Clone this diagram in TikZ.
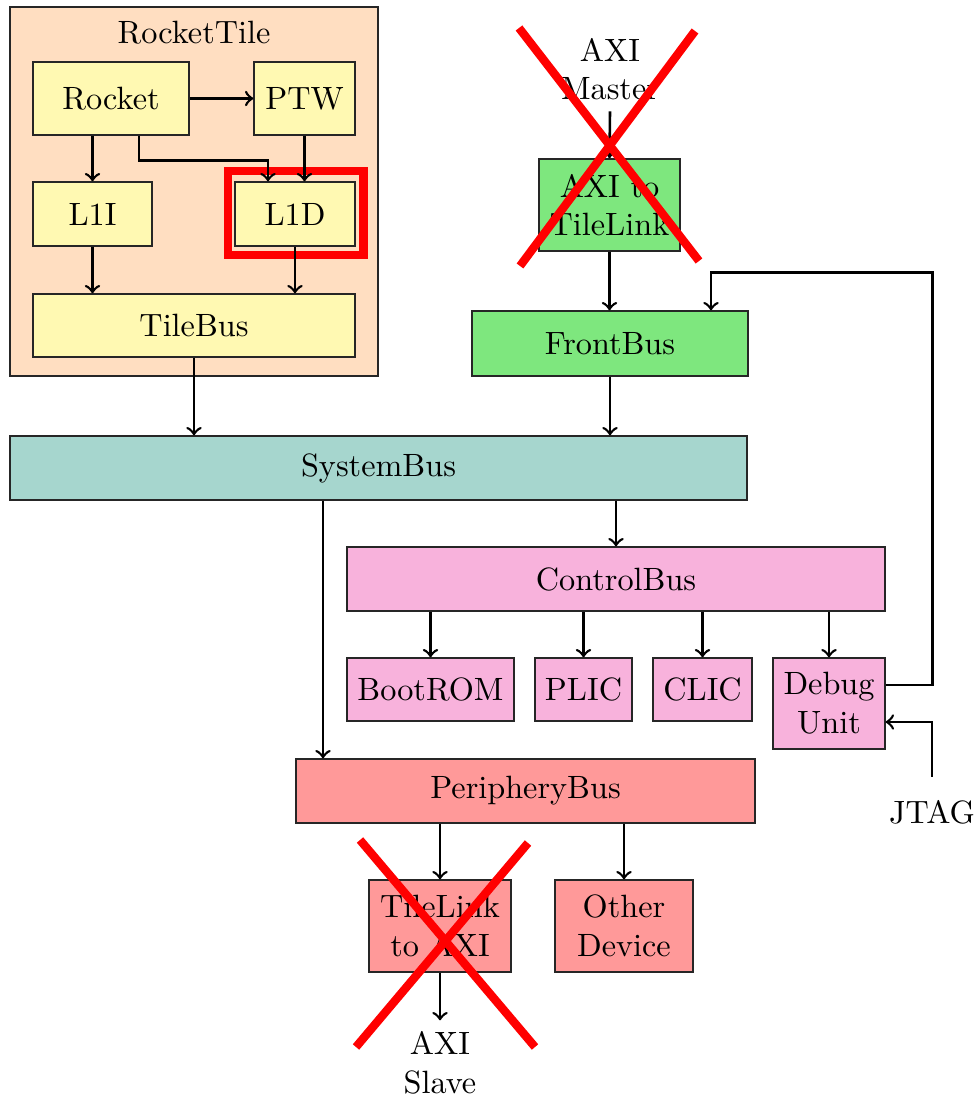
\documentclass[tikz,border=0pt]{standalone}
\usetikzlibrary{calc}
\definecolor{tilefill}{RGB}{255,222,193}
\definecolor{corefill}{RGB}{255,249,178}
\definecolor{frontfill}{RGB}{126,231,126}
\definecolor{sysfill}{RGB}{166,214,206}
\definecolor{ctrlfill}{RGB}{248,178,220}
\definecolor{perifill}{RGB}{255,153,153}
% box: fill colour, name, x0, x1, y0, y1, text (pixel-like units, y downward)
\newcommand\blk[7]{%
  \node[blockbox, fill=#1, minimum width={(#4-#3)*0.31pt}, minimum height={(#6-#5)*0.31pt}]
    (#2) at ({(#3+#4)/2},{(#5+#6)/2}) {#7};}
\begin{document}
\begin{tikzpicture}[x=0.31pt, y=-0.31pt,
  blockbox/.style={draw=black!85, line width=0.4pt, inner sep=0pt, align=center},
  arr/.style={->, thick},
  lbl/.style={align=center},
  cross/.style={draw=red, line width=2.6pt},
  hilite/.style={draw=red, line width=2.6pt}]
\useasboundingbox (0,0) rectangle (977,1099);

% tile container
\blk{tilefill}{tile}{10}{378}{7}{376}{}
\node at (194,33) {RocketTile};

% tile contents
\blk{corefill}{rocket}{33}{189}{62}{135}{Rocket}
\blk{corefill}{ptw}{254}{355}{62}{135}{PTW}
\blk{corefill}{l1i}{33}{152}{182}{246}{L1I}
\blk{corefill}{l1d}{235}{355}{182}{246}{L1D}
\blk{corefill}{tilebus}{33}{355}{294}{357}{TileBus}
\draw[hilite] ($(l1d.north west)+(-6.5,-10.3)$) rectangle ($(l1d.south east)+(7.7,8.5)$);

% front side
\node[lbl] (axim) at (610,69) {AXI\\Master};
\blk{frontfill}{axi2tl}{539}{680}{159}{251}{AXI to\\TileLink}
\blk{frontfill}{frontbus}{472}{748}{311}{376}{FrontBus}

% system and control buses
\blk{sysfill}{systembus}{10}{747}{436}{500}{SystemBus}
\blk{ctrlfill}{controlbus}{347}{885}{547}{611}{ControlBus}
\blk{ctrlfill}{bootrom}{347}{514}{658}{721}{BootROM}
\blk{ctrlfill}{plic}{535}{632}{658}{721}{PLIC}
\blk{ctrlfill}{clic}{653}{752}{658}{721}{CLIC}
\blk{ctrlfill}{debug}{773}{885}{658}{749}{Debug\\Unit}
\node (jtag) at (932,812) {JTAG};

% periphery
\blk{perifill}{peribus}{296}{755}{759}{823}{PeripheryBus}
\blk{perifill}{tl2axi}{369}{511}{880}{972}{TileLink\\to AXI}
\blk{perifill}{other}{555}{693}{880}{972}{Other\\Device}
\node[lbl] (axis) at (440,1063) {AXI\\Slave};

% connectors inside the tile
\draw[arr] (rocket.east |- ptw.west) -- (ptw.west);
\draw[arr] (l1i.north |- rocket.south) -- (l1i.north);
\draw[arr] ($(rocket.south)+(28,0)$) -- ++(0,25) -| ($(l1d.north)+(-27,0)$);
\draw[arr] (ptw.south) -- (ptw.south |- l1d.north);
\draw[arr] (l1i.south) -- (l1i.south |- tilebus.north);
\draw[arr] (l1d.south) -- (l1d.south |- tilebus.north);
\draw[arr] (tilebus.south) -- (tilebus.south |- systembus.north);

% front connectors
\draw[arr] (axim.south) -- (axi2tl.north);
\draw[arr] (axi2tl.south) -- (frontbus.north -| axi2tl.south);
\draw[arr] (frontbus.south) -- (frontbus.south |- systembus.north);
\draw[arr] ($(debug.east)+(0,-18.5)$) -- ++(47,0) |- ($(frontbus.north)+(101,-38)$) -- ($(frontbus.north)+(101,0)$);

% system bus fan-out
\draw[arr] (controlbus.north |- systembus.south) -- (controlbus.north);
\draw[arr] ($(systembus.south)+(-55.5,0)$) coordinate (sbp) -- (sbp |- peribus.north);
\draw[arr] (bootrom.north |- controlbus.south) -- (bootrom.north);
\draw[arr] (plic.north |- controlbus.south) -- (plic.north);
\draw[arr] (clic.north |- controlbus.south) -- (clic.north);
\draw[arr] (debug.north |- controlbus.south) -- (debug.north);
\draw[arr] ($(jtag.north)+(0,-12)$) |- ($(debug.east)+(0,18.5)$);

% periphery connectors
\draw[arr] (tl2axi.north |- peribus.south) -- (tl2axi.north);
\draw[arr] (other.north |- peribus.south) -- (other.north);
\draw[arr] (tl2axi.south) -- (axis.north);

% removed blocks
\draw[cross] (519,28) -- (699,261);
\draw[cross] (695,31) -- (520,266);
\draw[cross] (360,840) -- (535,1047);
\draw[cross] (528,843) -- (356,1047);
\end{tikzpicture}
\end{document}
